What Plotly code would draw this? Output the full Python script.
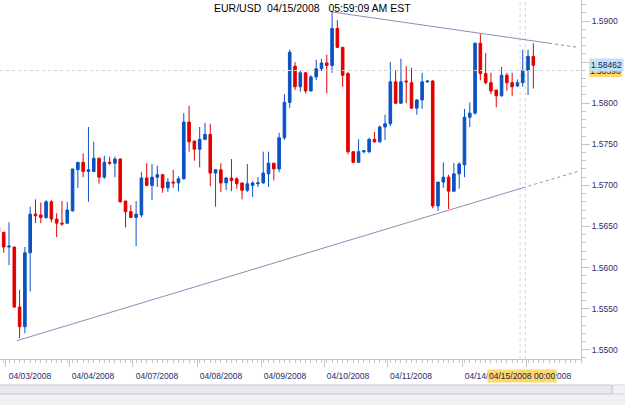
import plotly.graph_objects as go

# ---- data (2-hour EUR/USD candles) ----
opens = [1.5649, 1.5643, 1.5625, 1.5625, 1.5552, 1.5528, 1.5618, 1.5665, 1.5664, 1.5661,
         1.5680, 1.5659, 1.5654, 1.5654, 1.5669, 1.5719, 1.5728, 1.5717, 1.5717, 1.5733,
         1.5710, 1.5728, 1.5727, 1.5732, 1.5681, 1.5668, 1.5661, 1.5664, 1.5709, 1.5700,
         1.5710, 1.5713, 1.5697, 1.5704, 1.5703, 1.5708, 1.5777, 1.5754, 1.5744, 1.5756,
         1.5762, 1.5715, 1.5719, 1.5703, 1.5709, 1.5708, 1.5703, 1.5694, 1.5700, 1.5702,
         1.5703, 1.5714, 1.5727, 1.5720, 1.5758, 1.5801, 1.5845, 1.5820, 1.5837, 1.5815,
         1.5832, 1.5842, 1.5849, 1.5846, 1.5891, 1.5868, 1.5836, 1.5741, 1.5728, 1.5741,
         1.5741, 1.5756, 1.5753, 1.5771, 1.5775, 1.5826, 1.5800, 1.5827, 1.5825, 1.5794,
         1.5804, 1.5826, 1.5827, 1.5675, 1.5704, 1.5710, 1.5693, 1.5714, 1.5725, 1.5783,
         1.5788, 1.5873, 1.5836, 1.5825, 1.5816, 1.5809, 1.5834, 1.5825, 1.5821, 1.5825,
         1.5840, 1.5857]
highs = [1.5652, 1.5643, 1.5655, 1.5625, 1.5573, 1.5625, 1.5674, 1.5683, 1.5679, 1.5682,
         1.5682, 1.5666, 1.5681, 1.5680, 1.5720, 1.5728, 1.5739, 1.5771, 1.5753, 1.5734,
         1.5736, 1.5735, 1.5735, 1.5733, 1.5681, 1.5676, 1.5681, 1.5716, 1.5727, 1.5726,
         1.5724, 1.5714, 1.5709, 1.5719, 1.5711, 1.5788, 1.5797, 1.5754, 1.5771, 1.5776,
         1.5775, 1.5720, 1.5727, 1.5710, 1.5732, 1.5710, 1.5703, 1.5726, 1.5705, 1.5710,
         1.5741, 1.5741, 1.5727, 1.5764, 1.5811, 1.5865, 1.5850, 1.5840, 1.5838, 1.5834,
         1.5853, 1.5854, 1.5859, 1.5911, 1.5901, 1.5868, 1.5838, 1.5741, 1.5756, 1.5743,
         1.5758, 1.5765, 1.5773, 1.5786, 1.5850, 1.5840, 1.5854, 1.5845, 1.5843, 1.5805,
         1.5837, 1.5828, 1.5828, 1.5704, 1.5728, 1.5713, 1.5727, 1.5728, 1.5793, 1.5801,
         1.5874, 1.5884, 1.5861, 1.5837, 1.5816, 1.5844, 1.5837, 1.5837, 1.5829, 1.5865,
         1.5865, 1.5873]
lows = [1.5642, 1.5618, 1.5603, 1.5551, 1.5514, 1.5520, 1.5571, 1.5654, 1.5654, 1.5659,
        1.5655, 1.5637, 1.5651, 1.5653, 1.5668, 1.5697, 1.5710, 1.5680, 1.5716, 1.5702,
        1.5708, 1.5725, 1.5710, 1.5679, 1.5649, 1.5661, 1.5626, 1.5661, 1.5699, 1.5682,
        1.5698, 1.5691, 1.5692, 1.5697, 1.5693, 1.5707, 1.5741, 1.5730, 1.5722, 1.5755,
        1.5699, 1.5674, 1.5692, 1.5694, 1.5693, 1.5696, 1.5683, 1.5692, 1.5686, 1.5698,
        1.5702, 1.5698, 1.5706, 1.5716, 1.5755, 1.5794, 1.5816, 1.5814, 1.5812, 1.5814,
        1.5828, 1.5839, 1.5812, 1.5837, 1.5867, 1.5820, 1.5738, 1.5727, 1.5727, 1.5739,
        1.5739, 1.5752, 1.5752, 1.5755, 1.5772, 1.5799, 1.5799, 1.5800, 1.5793, 1.5786,
        1.5793, 1.5825, 1.5672, 1.5669, 1.5697, 1.5671, 1.5692, 1.5696, 1.5710, 1.5771,
        1.5786, 1.5828, 1.5823, 1.5811, 1.5795, 1.5808, 1.5815, 1.5809, 1.5820, 1.5820,
        1.5810, 1.5818]
closes = [1.5643, 1.5625, 1.5626, 1.5552, 1.5528, 1.5618, 1.5665, 1.5663, 1.5661, 1.5680,
          1.5659, 1.5654, 1.5653, 1.5670, 1.5720, 1.5728, 1.5717, 1.5719, 1.5733, 1.5710,
          1.5728, 1.5727, 1.5732, 1.5680, 1.5668, 1.5661, 1.5665, 1.5709, 1.5700, 1.5710,
          1.5713, 1.5697, 1.5704, 1.5703, 1.5708, 1.5777, 1.5753, 1.5744, 1.5756, 1.5762,
          1.5715, 1.5719, 1.5703, 1.5709, 1.5706, 1.5702, 1.5694, 1.5702, 1.5703, 1.5703,
          1.5715, 1.5727, 1.5720, 1.5758, 1.5801, 1.5862, 1.5820, 1.5837, 1.5815, 1.5832,
          1.5842, 1.5849, 1.5846, 1.5891, 1.5868, 1.5834, 1.5741, 1.5728, 1.5741, 1.5742,
          1.5756, 1.5753, 1.5771, 1.5775, 1.5826, 1.5800, 1.5826, 1.5826, 1.5794, 1.5804,
          1.5826, 1.5827, 1.5675, 1.5704, 1.5710, 1.5693, 1.5714, 1.5726, 1.5783, 1.5788,
          1.5873, 1.5836, 1.5825, 1.5815, 1.5809, 1.5834, 1.5825, 1.5820, 1.5825, 1.5840,
          1.5857, 1.58462]
candle_idx = list(range(len(opens)))

# day separators (candle index) and their labels
day_pos = [1.43, 13.33, 25.41, 37.5, 49.58, 61.48, 73.37, 87.54, 99.62]
day_labels = ["04/03/2008", "04/04/2008", "04/07/2008", "04/08/2008", "04/09/2008",
              "04/10/2008", "04/11/2008", "04/14/2008", "04/15/2008"]

# trend lines: [start, solid end, dotted end]
lower_x = [3.5, 99.0, 109.4]
lower_y = [1.5511, 1.5697, 1.5717]
upper_x = [63.0, 104.0, 109.4]
upper_y = [1.5911, 1.5873, 1.5868]

last_price = 1.58462
cross_price = 1.58398
cross_x = [98.5, 99.5]
cross_label = "04/15/2008 00:00"
title_text = "EUR/USD\u00a0\u00a004/15/2008\u00a0\u00a0\u00a005:59:09 AM EST"

x_range = [0.3, 110.0]
y_range = [1.54887, 1.59256]

BLUE = "#0a52c4"
RED = "#e10000"
TREND = "#8c8cb8"
AXC = "#c4c4cc"
LBL = "#2b2b6e"
FONT = "Liberation Sans, Arial, sans-serif"

fig = go.Figure()

fig.add_trace(go.Candlestick(
    x=candle_idx, open=opens, high=highs, low=lows, close=closes,
    increasing=dict(line=dict(color=BLUE, width=1), fillcolor=BLUE),
    decreasing=dict(line=dict(color=RED, width=1), fillcolor=RED),
    whiskerwidth=0, showlegend=False, hoverinfo="skip"))

# crosshair horizontal
fig.add_trace(go.Scatter(x=x_range, y=[cross_price, cross_price], mode="lines",
                         line=dict(color="#cfcfd4", width=1, dash="dot"),
                         showlegend=False, hoverinfo="skip"))

for xs, ys in ((lower_x, lower_y), (upper_x, upper_y)):
    fig.add_trace(go.Scatter(x=xs[:2], y=ys[:2], mode="lines",
                             line=dict(color=TREND, width=1), showlegend=False, hoverinfo="skip"))
    fig.add_trace(go.Scatter(x=xs[1:], y=ys[1:], mode="lines",
                             line=dict(color=TREND, width=1, dash="dot"), showlegend=False,
                             hoverinfo="skip"))

shapes = []
for cx in cross_x:
    shapes.append(dict(type="line", xref="x", yref="paper", x0=cx, x1=cx, y0=0, y1=1,
                       line=dict(color="#d4d4d8", width=1, dash="dot"), layer="below"))
# scrollbar and bottom panel
shapes.append(dict(type="rect", xref="paper", yref="paper", x0=-0.01, x1=1.08,
                   y0=-0.13, y1=-0.0975, fillcolor="#f0f0f2", line=dict(width=0)))
shapes.append(dict(type="rect", xref="paper", yref="paper", x0=-0.01, x1=1.053,
                   y0=-0.0975, y1=-0.0724, fillcolor="#e9e9ef",
                   line=dict(color="#c6c6d0", width=1)))
shapes.append(dict(type="rect", xref="paper", yref="paper", x0=1.055, x1=1.08,
                   y0=-0.0975, y1=-0.0724, fillcolor="#f2f2f4",
                   line=dict(color="#d0d0d8", width=1)))

annotations = [
    dict(text=title_text, xref="paper", yref="paper", x=0.5387, y=0.979,
         xanchor="center", yanchor="middle", showarrow=False,
         font=dict(family=FONT, size=10.5, color="#000000")),
    dict(text=f"{cross_price:.5f}", xref="paper", yref="y", x=1.0138, y=cross_price,
         xanchor="left", yanchor="middle", showarrow=False, bgcolor="#fcd96a",
         bordercolor="#e8c050", borderwidth=0, borderpad=1,
         font=dict(family=FONT, size=8.5, color="#1a1a50")),
    dict(text=f"{last_price:.5f}", xref="paper", yref="y", x=1.0138, y=last_price,
         xanchor="left", yanchor="middle", showarrow=False, bgcolor="#bfe2fb",
         borderpad=1, font=dict(family=FONT, size=8.5, color="#1a1a50")),
    dict(text=cross_label, xref="x", yref="paper", x=98.9, y=-0.0487,
         xanchor="center", yanchor="middle", showarrow=False, bgcolor="#fcd96a",
         borderpad=1, font=dict(family=FONT, size=8.5, color="#1a1a50")),
]

fig.update_layout(
    width=625, height=405, autosize=False,
    margin=dict(l=0, r=44, t=0, b=46, pad=0),
    paper_bgcolor="white", plot_bgcolor="white",
    shapes=shapes, annotations=annotations,
    xaxis=dict(range=x_range, rangeslider=dict(visible=False), showgrid=False,
               zeroline=False, showline=True, linecolor=AXC, linewidth=1,
               tickmode="array", tickvals=day_pos, ticktext=day_labels,
               ticks="outside", ticklen=7, tickcolor=AXC, tickwidth=1,
               ticklabelshift=24, ticklabelstandoff=2,
               tickfont=dict(family=FONT, size=8.5, color=LBL),
               minor=dict(tickmode="linear", tick0=0, dtick=1, ticks="outside",
                          ticklen=3, tickcolor=AXC, showgrid=False)),
    yaxis=dict(range=y_range, side="right", showgrid=False, zeroline=False,
               showline=True, linecolor=AXC, linewidth=1,
               tickmode="linear", tick0=1.55, dtick=0.005, tickformat=".4f",
               ticks="outside", ticklen=8, tickcolor=AXC,
               tickfont=dict(family=FONT, size=8.5, color=LBL),
               minor=dict(tickmode="linear", tick0=1.55, dtick=0.001, ticks="outside",
                          ticklen=4, tickcolor=AXC, showgrid=False)),
)

fig.write_html("out.html")
